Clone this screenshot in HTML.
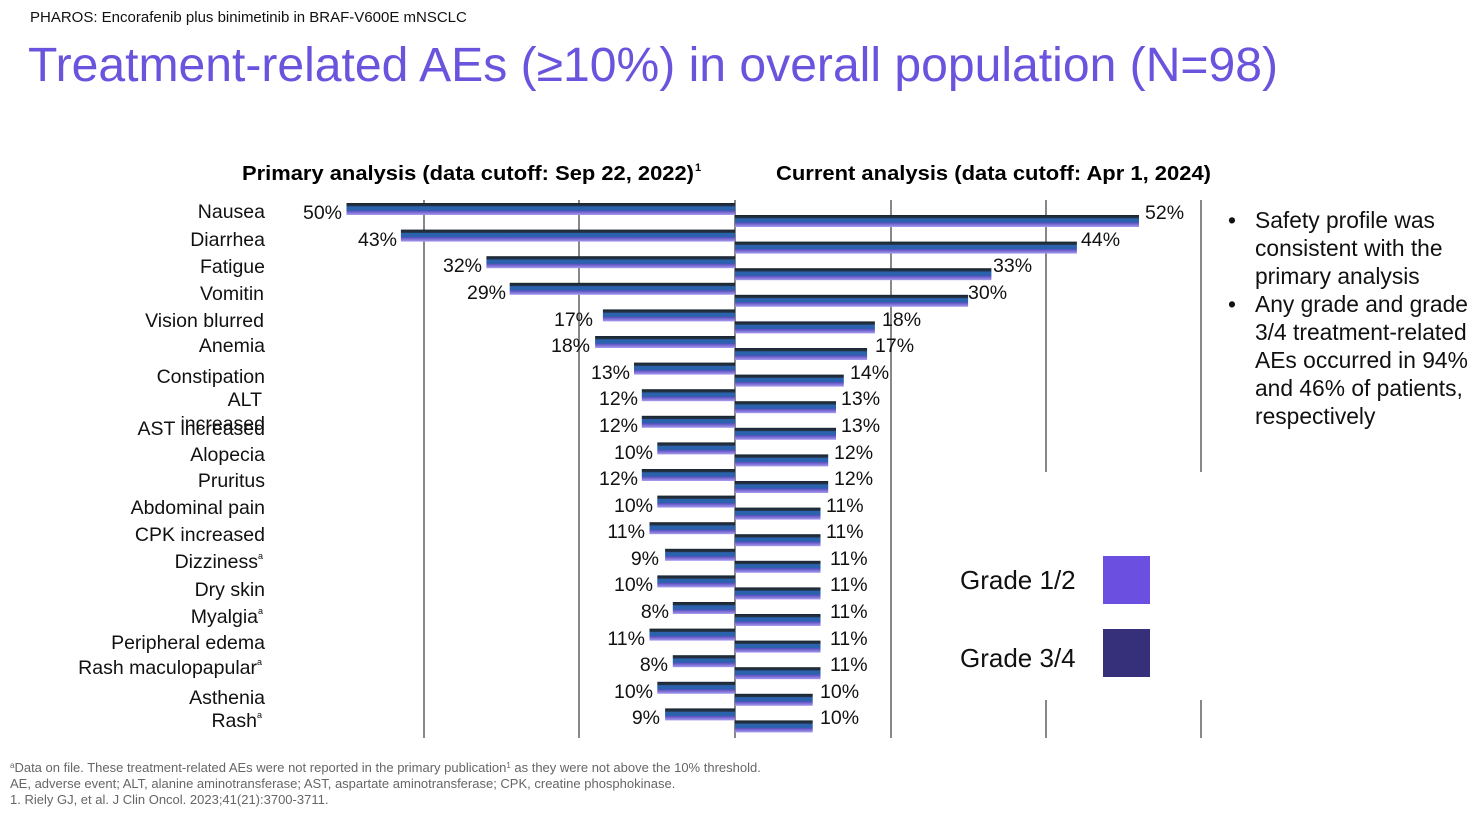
<!DOCTYPE html>
<html><head><meta charset="utf-8"><style>
body{margin:0;background:#fff;}
svg{display:block;font-family:"Liberation Sans",Arial,sans-serif;}
</style></head><body>
<svg width="1474" height="820" viewBox="0 0 1474 820" xmlns="http://www.w3.org/2000/svg">
<defs>
<linearGradient id="b" x1="0" y1="0" x2="0" y2="1">
<stop offset="0" stop-color="#1b2430"/><stop offset="0.25" stop-color="#243446"/>
<stop offset="0.3" stop-color="#2a62ad"/><stop offset="0.6" stop-color="#2a62ad"/>
<stop offset="0.65" stop-color="#5a4fc0"/><stop offset="1" stop-color="#a99cf0"/>
</linearGradient>
</defs>
<text x="30" y="22" font-size="15" fill="#111">PHAROS: Encorafenib plus binimetinib in BRAF-V600E mNSCLC</text>
<text x="28" y="81" font-size="48" fill="#6a53dd" textLength="1250" lengthAdjust="spacingAndGlyphs">Treatment-related  AEs (≥10%) in overall population (N=98)</text>
<text x="242" y="180" font-size="20" font-weight="bold" textLength="452" lengthAdjust="spacingAndGlyphs">Primary analysis (data cutoff: Sep 22, 2022)</text>
<text x="695" y="171" font-size="11" font-weight="bold">1</text>
<text x="776" y="180" font-size="20" font-weight="bold" textLength="435" lengthAdjust="spacingAndGlyphs">Current analysis (data cutoff: Apr 1, 2024)</text>
<g stroke="#888" stroke-width="2">
<line x1="424" y1="200" x2="424" y2="738"/><line x1="579" y1="200" x2="579" y2="738"/>
<line x1="735" y1="200" x2="735" y2="738"/><line x1="891" y1="200" x2="891" y2="738"/>
<line x1="1046" y1="200" x2="1046" y2="472"/><line x1="1201" y1="200" x2="1201" y2="472"/>
<line x1="1046" y1="700" x2="1046" y2="738"/><line x1="1201" y1="700" x2="1201" y2="738"/>
</g>
<g fill="url(#b)">
<rect x="346.5" y="203" width="388.5" height="12"/><rect x="735" y="215" width="404" height="12"/>
<rect x="400.9" y="229.6" width="334.1" height="12"/><rect x="735" y="241.6" width="341.9" height="12"/>
<rect x="486.4" y="256.2" width="248.6" height="12"/><rect x="735" y="268.2" width="256.4" height="12"/>
<rect x="509.7" y="282.8" width="225.3" height="12"/><rect x="735" y="294.8" width="233.1" height="12"/>
<rect x="602.9" y="309.4" width="132.1" height="12"/><rect x="735" y="321.4" width="139.9" height="12"/>
<rect x="595.1" y="336" width="139.9" height="12"/><rect x="735" y="348" width="132.1" height="12"/>
<rect x="634" y="362.6" width="101" height="12"/><rect x="735" y="374.6" width="108.8" height="12"/>
<rect x="641.8" y="389.2" width="93.2" height="12"/><rect x="735" y="401.2" width="101" height="12"/>
<rect x="641.8" y="415.8" width="93.2" height="12"/><rect x="735" y="427.8" width="101" height="12"/>
<rect x="657.3" y="442.4" width="77.7" height="12"/><rect x="735" y="454.4" width="93.2" height="12"/>
<rect x="641.8" y="469" width="93.2" height="12"/><rect x="735" y="481" width="93.2" height="12"/>
<rect x="657.3" y="495.6" width="77.7" height="12"/><rect x="735" y="507.6" width="85.5" height="12"/>
<rect x="649.5" y="522.2" width="85.5" height="12"/><rect x="735" y="534.2" width="85.5" height="12"/>
<rect x="665.1" y="548.8" width="69.9" height="12"/><rect x="735" y="560.8" width="85.5" height="12"/>
<rect x="657.3" y="575.4" width="77.7" height="12"/><rect x="735" y="587.4" width="85.5" height="12"/>
<rect x="672.8" y="602" width="62.2" height="12"/><rect x="735" y="614" width="85.5" height="12"/>
<rect x="649.5" y="628.6" width="85.5" height="12"/><rect x="735" y="640.6" width="85.5" height="12"/>
<rect x="672.8" y="655.2" width="62.2" height="12"/><rect x="735" y="667.2" width="85.5" height="12"/>
<rect x="657.3" y="681.8" width="77.7" height="12"/><rect x="735" y="693.8" width="77.7" height="12"/>
<rect x="665.1" y="708.4" width="69.9" height="12"/><rect x="735" y="720.4" width="77.7" height="12"/>
</g>
<g font-size="19.5" fill="#111" text-anchor="end">
<text x="342" y="219">50%</text><text x="397" y="246">43%</text><text x="482" y="272">32%</text>
<text x="506" y="299">29%</text><text x="593" y="326">17%</text><text x="590" y="352">18%</text>
<text x="630" y="379">13%</text><text x="638" y="405">12%</text><text x="638" y="432">12%</text>
<text x="653" y="459">10%</text><text x="638" y="485">12%</text><text x="653" y="512">10%</text>
<text x="645" y="538">11%</text><text x="659" y="565">9%</text><text x="653" y="591">10%</text>
<text x="669" y="618">8%</text><text x="645" y="645">11%</text><text x="668" y="671">8%</text>
<text x="653" y="698">10%</text><text x="660" y="724">9%</text>
</g>
<g font-size="19.5" fill="#111">
<text x="1145" y="219">52%</text><text x="1081" y="246">44%</text><text x="993" y="272">33%</text>
<text x="968" y="299">30%</text><text x="882" y="326">18%</text><text x="875" y="352">17%</text>
<text x="850" y="379">14%</text><text x="841" y="405">13%</text><text x="841" y="432">13%</text>
<text x="834" y="459">12%</text><text x="834" y="485">12%</text><text x="826" y="512">11%</text>
<text x="826" y="538">11%</text><text x="830" y="565">11%</text><text x="830" y="591">11%</text>
<text x="830" y="618">11%</text><text x="830" y="645">11%</text><text x="830" y="671">11%</text>
<text x="820" y="698">10%</text><text x="820" y="724">10%</text>
</g>
<g font-size="19.5" fill="#111" text-anchor="end">
<text x="265" y="218">Nausea</text><text x="265" y="246">Diarrhea</text><text x="265" y="273">Fatigue</text>
<text x="264" y="300">Vomitin</text><text x="264" y="327">Vision blurred</text><text x="265" y="352">Anemia</text>
<text x="265" y="383">Constipation</text><text x="262" y="406">ALT</text>
<text x="265" y="430">increased</text><text x="265" y="435">AST increased</text>
<text x="265" y="461">Alopecia</text><text x="265" y="487">Pruritus</text><text x="265" y="514">Abdominal pain</text>
<text x="265" y="541">CPK increased</text><text x="258" y="568">Dizziness</text><text x="265" y="596">Dry skin</text>
<text x="258" y="623">Myalgia</text><text x="265" y="649">Peripheral edema</text><text x="257" y="674">Rash maculopapular</text>
<text x="265" y="704">Asthenia</text><text x="257" y="727">Rash</text>
</g>
<g font-size="9" fill="#111">
<text x="258" y="559">a</text><text x="258" y="614">a</text><text x="257" y="665">a</text><text x="257" y="718">a</text>
</g>
<g font-size="22.8" fill="#111">
<text x="1228" y="228">•</text><text x="1255" y="228">Safety profile was</text>
<text x="1255" y="256">consistent with the</text><text x="1255" y="284">primary analysis</text>
<text x="1228" y="312">•</text><text x="1255" y="312">Any grade and grade</text>
<text x="1255" y="340">3/4 treatment-related</text><text x="1255" y="368">AEs occurred in 94%</text>
<text x="1255" y="396">and 46% of patients,</text><text x="1255" y="424">respectively</text>
</g>
<text x="960" y="589" font-size="26" fill="#111">Grade 1/2</text>
<rect x="1103" y="556" width="47" height="48" fill="#6b4fe0"/>
<text x="960" y="667" font-size="26" fill="#111">Grade 3/4</text>
<rect x="1103" y="629" width="47" height="48" fill="#36307a"/>
<g font-size="13" fill="#666">
<text x="10" y="772"><tspan font-size="8" dy="-4">a</tspan><tspan dy="4">Data on file. These treatment-related AEs were not reported in the primary publication</tspan><tspan font-size="8" dy="-4">1</tspan><tspan dy="4"> as they were not above the 10% threshold.</tspan></text>
<text x="10" y="788">AE, adverse event; ALT,  alanine aminotransferase; AST, aspartate aminotransferase; CPK, creatine phosphokinase.</text>
<text x="10" y="804">1. Riely GJ, et al. J Clin Oncol. 2023;41(21):3700-3711.</text>
</g>
</svg>
</body></html>
